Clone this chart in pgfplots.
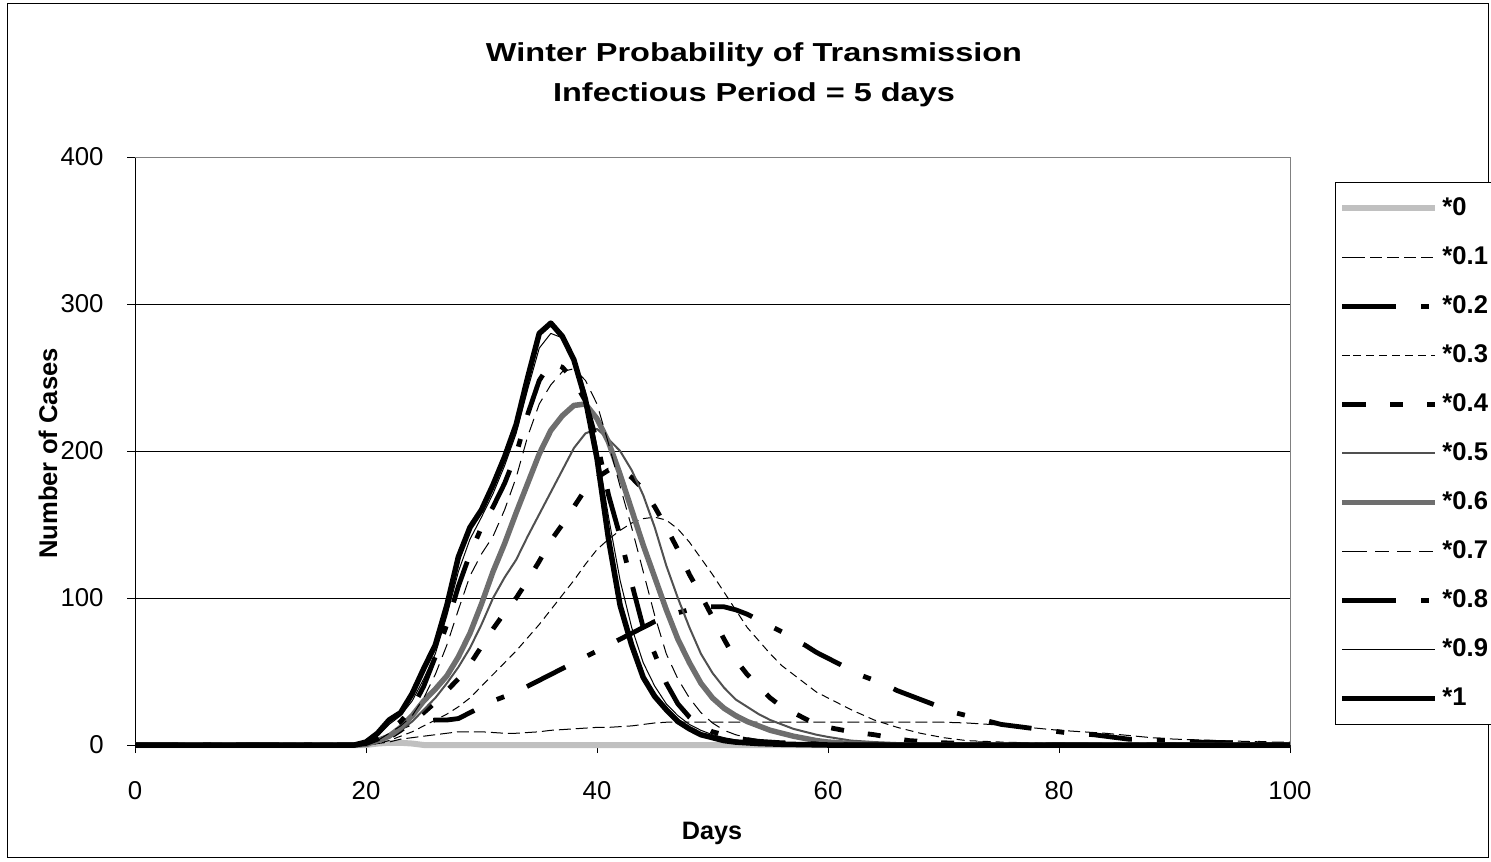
\documentclass[border=0pt]{standalone}
\usepackage{fontspec}
\setmainfont{Liberation Sans}
\usepackage{pgfplots}
\pgfplotsset{compat=1.18}
\definecolor{lgray}{HTML}{C0C0C0}
\definecolor{dgray}{HTML}{505050}
\definecolor{mgray}{HTML}{6E6E6E}
\begin{document}
\begin{tikzpicture}
\useasboundingbox (0pt,0pt) rectangle (745.5pt,-430.5pt);
\draw[line width=0.5pt] (3.5pt,-2pt) rectangle (744pt,-428.5pt);
\begin{axis}[
  at={(67.5pt,-372.5pt)}, anchor=south west,
  width=577.5pt, height=294pt, scale only axis,
  xmin=0, xmax=100, ymin=0, ymax=400,
  xtick={0,20,40,60,80,100}, ytick={0,100,200,300,400},
  axis x line*=bottom, axis y line*=left,
  axis line style={black, line width=0.5pt},
  tick align=outside, major tick length=4pt,
  tick style={black, line width=0.5pt},
  ymajorgrids, grid style={black, line width=0.5pt},
  clip=false,
  /pgf/number format/assume math mode=true,
  ticklabel style={font=\fontsize{12.9}{15}\selectfont},
  xticklabel style={anchor=north, inner sep=0pt, yshift=-14pt},
  yticklabel style={anchor=east, inner sep=0pt, xshift=-11.5pt},
  every axis plot/.append style={line join=round},
  legend cell align=left,
  legend style={at={(axis description cs:1.039,0.9575)}, anchor=north west,
    draw=black, inner xsep=2pt, inner ysep=7pt, row sep=12.5pt, column sep=2pt,
    font=\bfseries\fontsize{12.8}{14}\selectfont,
    nodes={inner sep=0pt, text height=9.5pt, text depth=2.5pt}},
  legend image code/.code={\path (0pt,0pt) -- (5.5pt,0pt); \draw[#1] (5.5pt,0pt) -- (46.5pt,0pt);},
]
% *0
\addplot[lgray, line width=3pt] coordinates {(0,0) (20,0) (21,1) (22,1.5) (23,1.5) (24,1) (25,0) (100,0)};
\addlegendentry{*0}
% *0.1
\addplot[black, line width=0.5pt, dash pattern=on 6pt off 2.5pt] coordinates {(0,0) (20,0) (21,1) (22,2) (23,4) (24,5) (25,6) (26,7) (27,8) (28,9) (29,9) (30,9) (31,8.5) (32,8) (33,8) (34,8.5) (35,9) (36,10) (37,10.5) (38,11) (39,11.5) (40,12) (41,12) (42,12.5) (43,13) (44,14) (45,15) (46,15.5) (50,15.5) (55,15.5) (60,15.5) (65,15.5) (70,15.5) (72,15) (74,14) (76,13) (78,11.5) (80,10) (82,9) (84,8) (86,6.5) (88,5) (90,4) (92,3.5) (94,3) (96,2.5) (98,2) (100,2)};
\addlegendentry{*0.1}
% *0.2
\addplot[black, line width=2.4pt, dash pattern=on 21.5pt off 12.5pt on 4pt off 12.5pt] coordinates {(0,0) (19,0) (20,1) (21,4) (22,8) (23,12) (24,15) (25,16) (26,17) (27,17) (28,18) (29,22) (30,26) (31,30) (32,33) (33,36) (34,40) (35,44) (36,48) (37,52) (38,56) (39,60) (40,64) (41,68) (42,72) (43,76) (44,80) (45,84) (46,87) (47,90) (48,92) (49,94) (50,94) (51,94) (52,92) (53,89) (54,85) (55,81) (56,77) (57,72) (58,68) (59,63) (60,59) (61,55) (62,51) (63,47) (64,44) (65,41) (66,37) (67,34) (68,31) (69,28) (70,25) (71,22) (72,20) (73,18) (74,16) (75,14) (76,13) (77,12) (78,11) (79,10) (80,9) (81,8) (82,7.5) (83,7) (84,6) (85,5) (86,4) (88,3.5) (90,3) (92,2) (95,1.5) (98,1) (100,1)};
\addlegendentry{*0.2}
% *0.3
\addplot[black, line width=0.5pt, dash pattern=on 4pt off 2.5pt] coordinates {(0,0) (20,0) (21,1) (22,3) (23,6) (24,9) (25,13) (26,17) (27,21) (28,26) (29,32) (30,40) (31,48) (32,56) (33,64) (34,73) (35,82) (36,92) (37,102) (38,112) (39,123) (40,133) (41,140) (42,146) (43,151) (44,154) (45,155) (46,153) (47,147) (48,138) (49,127) (50,116) (51,104) (52,92) (53,80) (54,71) (55,62) (56,54) (57,48) (58,42) (59,36) (60,32) (62,24) (64,17) (66,12) (68,8) (70,5) (72,3) (75,2) (80,1) (85,0) (100,0)};
\addlegendentry{*0.3}
% *0.4
\addplot[black, line width=2.4pt, dash pattern=on 6.5pt off 12pt] coordinates {(0,0) (19,0) (20,0.5) (21,2) (22,5) (23,10) (24,16) (25,22) (26,29) (27,37) (28,45) (29,55) (30,67) (31,79) (32,90) (33,100) (34,112) (35,125) (36,139) (37,150) (38,162) (39,174) (40,182) (41,187) (42,188) (43,182) (44,174) (45,162) (46,148) (47,133) (48,116) (49,102) (50,87) (51,72) (52,58) (53,48) (54,40) (55,32) (56,26) (57,22) (58,18) (59,14) (60,12) (62,9) (64,7) (67,3) (70,1.5) (75,0.5) (80,0) (100,0)};
\addlegendentry{*0.4}
% *0.5
\addplot[dgray, line width=1pt] coordinates {(0,0) (19,0) (20,0.5) (21,2) (22,5) (23,10) (24,16) (25,24) (26,32) (27,42) (28,53) (29,66) (30,82) (31,100) (32,114) (33,126) (34,142) (35,157) (36,172) (37,187) (38,202) (39,212) (40,215) (41,208) (42,200) (43,187) (44,170) (45,148) (46,122) (47,100) (48,80) (49,62) (50,49) (51,39) (52,31) (53,26) (54,21) (55,17) (56,14) (57,11) (58,9) (59,7) (60,5.5) (62,3) (64,2) (67,1) (72,0) (100,0)};
\addlegendentry{*0.5}
% *0.6
\addplot[mgray, line width=2.75pt] coordinates {(0,0) (19,0) (20,0.5) (21,3) (22,6) (23,12) (24,20) (25,30) (26,38) (27,47) (28,60) (29,76) (30,96) (31,118) (32,137) (33,158) (34,178) (35,198) (36,214) (37,224) (38,231) (39,232) (40,222) (41,206) (42,184) (43,160) (44,136) (45,114) (46,92) (47,72) (48,56) (49,42) (50,32) (51,25) (52,20) (53,16) (54,13) (55,10) (56,8) (57,6) (58,4.5) (59,3) (60,2) (62,1) (65,0) (100,0)};
\addlegendentry{*0.6}
% *0.7
\addplot[black, line width=0.5pt, dash pattern=on 7pt off 4pt] coordinates {(0,0) (19,0) (20,1) (21,3) (22,8) (23,13) (24,20) (25,32) (26,48) (27,68) (28,92) (29,115) (30,130) (31,142) (32,160) (33,182) (34,210) (35,232) (36,245) (37,254) (38,256) (39,248) (40,232) (41,205) (42,176) (43,148) (44,118) (45,88) (46,62) (47,45) (48,32) (49,22) (50,15) (51,10) (52,7) (53,5) (54,3.5) (55,2.5) (57,1.5) (60,0.5) (64,0) (100,0)};
\addlegendentry{*0.7}
% *0.8
\addplot[black, line width=2.4pt, dash pattern=on 21.5pt off 12.5pt on 4pt off 12.5pt] coordinates {(0,0) (19,0) (20,1) (21,4) (22,10) (23,16) (24,25) (25,40) (26,60) (27,82) (28,108) (29,130) (30,148) (31,162) (32,178) (33,198) (34,225) (35,248) (36,260) (37,257) (38,248) (39,234) (40,206) (41,170) (42,142) (43,110) (44,80) (45,62) (46,42) (47,28) (48,19) (49,13) (50,9) (51,7) (52,5) (53,3.5) (54,2.5) (56,1.5) (58,1) (62,0) (100,0)};
\addlegendentry{*0.8}
% *0.9
\addplot[black, line width=0.5pt] coordinates {(0,0) (19,0) (20,1) (21,6) (22,14) (23,20) (24,30) (25,45) (26,62) (27,88) (28,118) (29,140) (30,155) (31,171) (32,190) (33,212) (34,242) (35,270) (36,280) (37,277) (38,264) (39,240) (40,203) (41,155) (42,112) (43,80) (44,56) (45,40) (46,28) (47,20) (48,14) (49,10) (50,7) (51,5) (52,3.5) (53,2.5) (54,2) (56,1) (60,0) (100,0)};
\addlegendentry{*0.9}
% *1
\addplot[black, line width=2.75pt] coordinates {(0,0) (19,0) (20,2) (21,8) (22,17) (23,22) (24,35) (25,52) (26,68) (27,95) (28,128) (29,148) (30,160) (31,177) (32,196) (33,218) (34,250) (35,280) (36,287) (37,278) (38,262) (39,235) (40,195) (41,140) (42,95) (43,68) (44,46) (45,33) (46,24) (47,16) (48,11) (49,7) (50,5) (51,3) (52,2) (53,1.5) (54,1) (56,0.5) (60,0) (100,0)};
\addlegendentry{*1}
\draw[gray, line width=0.5pt] (rel axis cs:0,1) -- (rel axis cs:1,1) -- (rel axis cs:1,0);
\end{axis}
\node[anchor=base, inner sep=0pt, font=\bfseries\fontsize{13}{15}\selectfont] at (377pt,-31pt) {\scalebox{1.25}[1]{Winter Probability of Transmission}};
\node[anchor=base, inner sep=0pt, font=\bfseries\fontsize{13}{15}\selectfont] at (377pt,-51pt) {\scalebox{1.25}[1]{Infectious Period = 5 days}};
\node[anchor=base, rotate=90, inner sep=0pt, font=\bfseries\fontsize{12.8}{15}\selectfont] at (28.5pt,-226.75pt) {Number of Cases};
\node[anchor=base, inner sep=0pt, font=\bfseries\fontsize{12.6}{15}\selectfont] at (356pt,-419.5pt) {Days};
\end{tikzpicture}
\end{document}
